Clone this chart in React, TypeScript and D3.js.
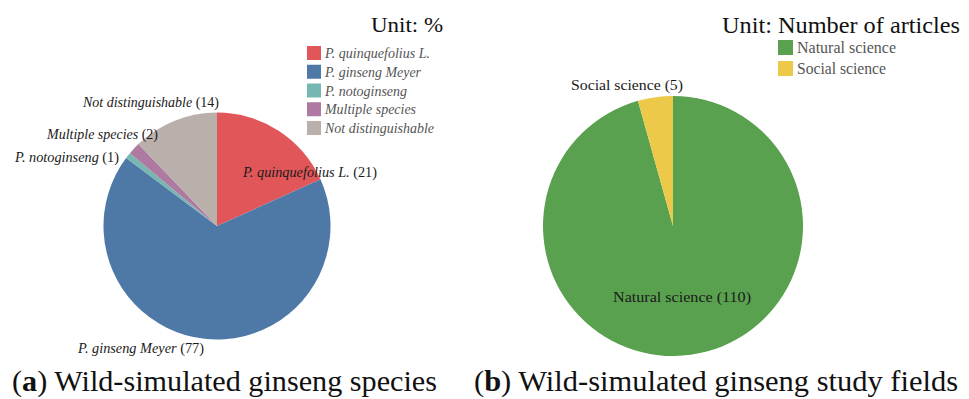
import React from "react";
import * as d3 from "d3";

// Panel (a): species studied in wild-simulated ginseng articles
const speciesNames = [
  "P. quinquefolius L.",
  "P. ginseng Meyer",
  "P. notoginseng",
  "Multiple species",
  "Not distinguishable",
];
const speciesValues = [21, 77, 1, 2, 14];
const speciesColors = ["#e15759", "#4e79a7", "#76b7b2", "#af7aa1", "#bab0ab"];

// Panel (b): study fields
const fieldNames = ["Natural science", "Social science"];
const fieldValues = [110, 5];
const fieldColors = ["#59a14f", "#edc949"];

const W = 969;
const H = 399;
const serif: React.CSSProperties = { fontFamily: "Liberation Serif" };

// label layout: offset from pie centre, text anchor, drawn width
type LabelLayout = { dx: number; dy: number; anchor: "start" | "end"; len: number };
const speciesLabelLayout: LabelLayout[] = [
  { dx: 26, dy: -54, anchor: "start", len: 134 },
  { dx: -13, dy: 122, anchor: "end", len: 126 },
  { dx: -98, dy: -69, anchor: "end", len: 104 },
  { dx: -59, dy: -92, anchor: "end", len: 111 },
  { dx: 2, dy: -124, anchor: "end", len: 136 },
];
const fieldLabelLayout: LabelLayout[] = [
  { dx: -60, dy: 71, anchor: "start", len: 138 },
  { dx: 10, dy: -141, anchor: "end", len: 112 },
];
const speciesLegendWidths = [105, 96, 82, 91, 109];
const fieldLegendWidths = [99, 89];

type PieProps = {
  names: string[];
  values: number[];
  colors: string[];
  cx: number;
  cy: number;
  r: number;
  layout: LabelLayout[];
  italic: boolean;
};

function Pie({ names, values, colors, cx, cy, r, layout, italic }: PieProps) {
  const pie = d3
    .pie<number>()
    .sort(null)
    .value((d) => d);
  const arcs = pie(values);
  const arc = d3.arc<d3.PieArcDatum<number>>().innerRadius(0).outerRadius(r);
  return (
    <g transform={`translate(${cx},${cy})`}>
      {arcs.map((a, i) => (
        <path key={i} d={arc(a) || ""} fill={colors[i]} />
      ))}
      {arcs.map((a, i) => {
        const l = layout[i];
        return (
          <text
            key={"l" + i}
            x={l.dx}
            y={l.dy}
            textAnchor={l.anchor}
            dominantBaseline="central"
            fontSize={14}
            fill="#1a1a1a"
            style={serif}
            textLength={l.len}
            lengthAdjust="spacingAndGlyphs"
          >
            <tspan fontStyle={italic ? "italic" : "normal"} style={serif}>
              {names[i]}
            </tspan>
            <tspan style={serif}>{` (${values[i]})`}</tspan>
          </text>
        );
      })}
    </g>
  );
}

type LegendProps = {
  names: string[];
  colors: string[];
  x: number;
  y: number;
  size: number;
  step: number;
  fontSize: number;
  italic: boolean;
  widths: number[];
};

function Legend({ names, colors, x, y, size, step, fontSize, italic, widths }: LegendProps) {
  return (
    <g transform={`translate(${x},${y})`}>
      {names.map((n, i) => (
        <g key={n} transform={`translate(0,${i * step})`}>
          <rect width={size} height={size} fill={colors[i]} />
          <text
            x={size + 4}
            y={size / 2}
            dominantBaseline="central"
            fontSize={fontSize}
            fontStyle={italic ? "italic" : "normal"}
            fill="#555"
            style={serif}
            textLength={widths[i]}
            lengthAdjust="spacingAndGlyphs"
          >
            {n}
          </text>
        </g>
      ))}
    </g>
  );
}

export default function App() {
  return (
    <svg
      width={W}
      height={H}
      viewBox={`0 0 ${W} ${H}`}
      style={{ position: "absolute", left: 0, top: 0, background: "#fff" }}
    >
      <rect width={W} height={H} fill="#fff" />

      {/* (a) species */}
      <text x={443} y={32} textAnchor="end" fontSize={22} fill="#111" style={serif} textLength={72} lengthAdjust="spacingAndGlyphs">
        Unit: %
      </text>
      <Legend
        names={speciesNames}
        colors={speciesColors}
        x={307}
        y={46}
        size={14}
        step={18.75}
        fontSize={15}
        italic={true}
        widths={speciesLegendWidths}
      />
      <Pie
        names={speciesNames}
        values={speciesValues}
        colors={speciesColors}
        cx={217}
        cy={226}
        r={113.5}
        layout={speciesLabelLayout}
        italic={true}
      />

      {/* (b) study fields */}
      <text x={960} y={33} textAnchor="end" fontSize={23} fill="#111" style={serif} textLength={238} lengthAdjust="spacingAndGlyphs">
        Unit: Number of articles
      </text>
      <Legend
        names={fieldNames}
        colors={fieldColors}
        x={778}
        y={40}
        size={15}
        step={21}
        fontSize={16}
        italic={false}
        widths={fieldLegendWidths}
      />
      <Pie
        names={fieldNames}
        values={fieldValues}
        colors={fieldColors}
        cx={673}
        cy={226}
        r={130}
        layout={fieldLabelLayout}
        italic={false}
      />

      {/* captions */}
      <text x={12} y={391} fontSize={30} fill="#111" style={serif} textLength={425} lengthAdjust="spacingAndGlyphs">
        (<tspan fontWeight="bold" style={serif}>a</tspan>) Wild-simulated ginseng species
      </text>
      <text x={474} y={391} fontSize={30} fill="#111" style={serif} textLength={484} lengthAdjust="spacingAndGlyphs">
        (<tspan fontWeight="bold" style={serif}>b</tspan>) Wild-simulated ginseng study fields
      </text>
    </svg>
  );
}
